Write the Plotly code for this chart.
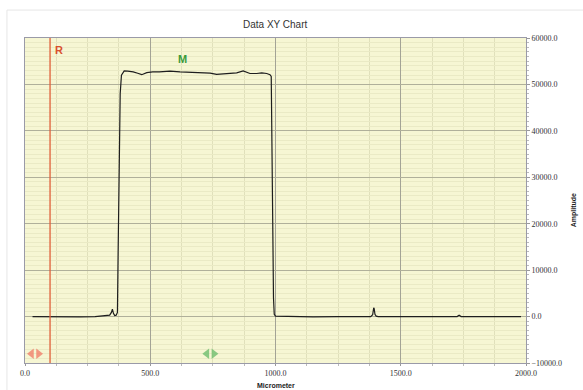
import plotly.graph_objects as go

# ---- data ----
x_vals = [30, 80, 150, 220, 280, 320, 338, 345, 349, 353, 358, 364, 369,
          372, 376, 380, 385, 390, 396, 410, 432, 450, 466, 486, 510, 536,
          579, 619, 659, 699, 739, 765, 790, 805, 830, 845, 871, 898, 925,
          945, 965, 978, 983, 986, 989, 992, 995, 1000, 1050, 1150, 1250,
          1330, 1380, 1388, 1392, 1394, 1397, 1402, 1410, 1500, 1600, 1700,
          1725, 1733, 1741, 1800, 1900, 1980]
y_vals = [0, -60, 0, -80, 0, 100, 300, 900, 1600, 700, 200, 300, 900,
          15000, 35000, 48000, 52000, 52550, 52900, 52850, 52700, 52400, 52100, 52550, 52700, 52700,
          52850, 52700, 52650, 52600, 52450, 52150, 52250, 52200, 52400, 52500, 52900, 52350, 52350,
          52500, 52350, 52100, 51700, 40000, 20000, 4000, 500, 100, 0, -50, 0,
          0, 0, 400, 1900, 1700, 500, 100, 0, 0, -40, 0,
          0, 300, 0, 0, -30, 0]

x_ticks = [0, 500, 1000, 1500, 2000]
y_ticks = [-10000, 0, 10000, 20000, 30000, 40000, 50000, 60000]
x_range = [0, 2000]
y_range = [-10000, 60000]

r_marker_x = 100
m_marker_x = 630
r_arrow_x = 40
m_arrow_x = 740
arrow_y = -8000

title_text = "Data XY Chart"
x_title = "Micrometer"
y_title = "Amplitude"

fig = go.Figure()

fig.add_trace(go.Scatter(x=x_vals, y=y_vals, mode="lines",
                         line=dict(color="#1e1e1e", width=1.2),
                         hoverinfo="skip", showlegend=False))

# R cursor line
fig.add_trace(go.Scatter(x=[r_marker_x, r_marker_x], y=y_range, mode="lines",
                         line=dict(color="#e0603a", width=1.3),
                         showlegend=False, hoverinfo="skip"))

# arrows
for ax_, col in [(r_arrow_x, "rgba(240,120,100,0.75)"), (m_arrow_x, "rgba(110,190,110,0.8)")]:
    fig.add_trace(go.Scatter(x=[ax_ - 14, ax_ + 14], y=[arrow_y, arrow_y], mode="markers",
                             marker=dict(symbol=["triangle-left", "triangle-right"], size=9,
                                         color=col, line=dict(width=0)),
                             showlegend=False, hoverinfo="skip"))

fig.add_annotation(x=r_marker_x + 10, y=57500, text="<b>R</b>", showarrow=False,
                   xanchor="left", font=dict(color="#d9502e", size=11, family="Liberation Sans"))
fig.add_annotation(x=m_marker_x, y=55500, text="<b>M</b>", showarrow=False,
                   font=dict(color="#3a9a3a", size=11, family="Liberation Sans"))

fig.add_annotation(xref="paper", yref="paper", x=0.5, y=1, yshift=14, yanchor="middle",
                   text=title_text, showarrow=False,
                   font=dict(size=10, color="#333333", family="Liberation Sans"))
fig.add_annotation(xref="paper", yref="paper", x=0.5, y=0, yshift=-22, yanchor="middle",
                   text="<b>" + x_title + "</b>", showarrow=False, borderpad=0,
                   font=dict(size=7, color="#222222", family="Liberation Sans"))
fig.add_annotation(xref="paper", yref="paper", x=1, xshift=53, y=0.47, text="<b>" + y_title + "</b>",
                   textangle=-90, showarrow=False, borderpad=0,
                   font=dict(size=7, color="#222222", family="Liberation Sans"))

# faint outer border
fig.add_shape(type="rect", xref="paper", yref="paper", x0=-0.036, x1=1.13, y0=-0.12, y1=1.086,
              line=dict(color="#e6e6e6", width=1), layer="below")

fig.update_xaxes(range=x_range, tickvals=x_ticks, tickformat=".1f",
                 showgrid=True, gridcolor="#a3a396", gridwidth=1,
                 minor=dict(dtick=125, showgrid=True, gridcolor="#e0e0bb", ticks="outside",
                            ticklen=2, tickcolor="#bbbbbb"),
                 ticks="outside", ticklen=2, tickcolor="#999999",
                 showline=True, linecolor="#9a9aa8", linewidth=1, mirror=True,
                 zeroline=False,
                 tickfont=dict(size=8, color="#333333", family="Liberation Serif"))
fig.update_yaxes(range=y_range, tickvals=y_ticks, tickformat=".1f", side="right",
                 showgrid=True, gridcolor="#b0b09a", gridwidth=1,
                 minor=dict(dtick=1000, showgrid=True, gridcolor="#eaeac5", ticks="outside",
                            ticklen=2, tickcolor="#bbbbbb"),
                 ticks="outside", ticklen=3, tickcolor="#999999",
                 showline=True, linecolor="#9a9aa8", linewidth=1, mirror=True,
                 zeroline=False,
                 tickfont=dict(size=8, color="#333333", family="Liberation Serif"))

fig.update_layout(width=583, height=390,
                  margin=dict(l=25, r=57, t=38, b=27),
                  paper_bgcolor="white", plot_bgcolor="#f6f6d3",
                  showlegend=False)

fig.write_html("out.html", config={"displayModeBar": False},
               post_script="document.body.style.margin='0';document.body.style.overflow='hidden';")
